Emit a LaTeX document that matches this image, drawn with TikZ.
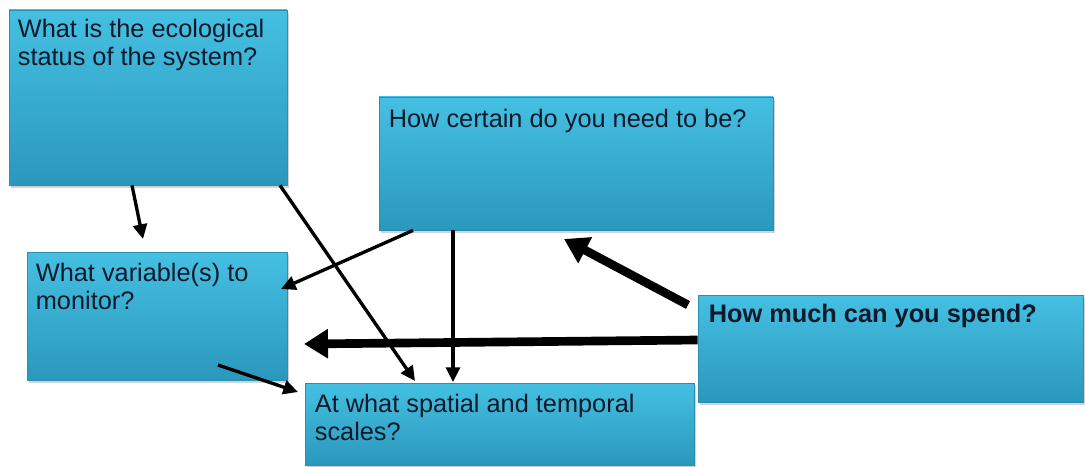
\documentclass[tikz,border=0pt]{standalone}
\usepackage{fontspec}
\setmainfont{Liberation Sans}
\usetikzlibrary{arrows.meta,shadows,fit,calc}
\definecolor{boxtop}{HTML}{45C0E2}
\definecolor{boxbot}{HTML}{2A98BC}
\definecolor{boxedge}{HTML}{2A90B0}
\definecolor{ink}{HTML}{0E1A2C}
\tikzset{
  qbox/.style={rectangle, inner sep=0pt, top color=boxtop, bottom color=boxbot,
    draw=boxedge, line width=0.6pt,
    drop shadow={shadow xshift=1.5pt, shadow yshift=-2pt, opacity=0.35}},
  qtext/.style={anchor=north west, inner sep=0pt, text=ink, align=left,
    font=\fontsize{19}{21}\selectfont},
  thin arrow/.style={line width=2.5pt, -{Triangle[length=11pt,width=10.5pt]}},
  thick arrow/.style={line width=6.5pt, -{Triangle[length=18pt,width=21pt]}}
}
\begin{document}
\begin{tikzpicture}[x=0.75pt,y=-0.75pt]
\useasboundingbox (0,0) rectangle (1085,467);
% question boxes
\node[qbox, fit={(9,10) (287,185)}]   (eco)   {};
\node[qbox, fit={(379,97) (773,230)}] (cert)  {};
\node[qbox, fit={(27,252) (287,380)}] (var)   {};
\node[qbox, fit={(698,295) (1083,402)}] (cost) {};
\node[qbox, fit={(305,383) (694,465)}] (scale) {};
% box texts
\node[qtext] (ecot) at ($(eco.north west)+(9,9)$) {What is the ecological\\status of the system?};
\node[qtext] (certt) at ($(cert.north west)+(10,12)$) {How certain do you need to be?};
\node[qtext] (vart) at ($(var.north west)+(9,11)$) {What variable(s) to\\monitor?};
\node[qtext, font=\fontsize{19}{21}\selectfont\bfseries] (costt) at ($(cost.north west)+(11,9)$) {How much can you spend?};
\node[qtext] (scalet) at ($(scale.north west)+(10,11)$) {At what spatial and temporal\\scales?};
% connector end points
\coordinate (e1) at (143,239);
\coordinate (e2) at (415,381);
\coordinate (e3) at (281,289);
\coordinate (e4) at (453,382);
\coordinate (s5) at (218,365);
\coordinate (e5) at (298,392);
\coordinate (s6) at (688,305);
\coordinate (e6) at (564,239);
\coordinate (e7) at (304,344);
% connectors
\draw[thin arrow] (eco.south -| 132,0) -- (e1);
\draw[thin arrow] (eco.south -| 280,0) -- (e2);
\draw[thin arrow] (cert.south -| 413,0) -- (e3);
\draw[thin arrow] (cert.south -| 453,0) -- (e4);
\draw[thin arrow] (s5) -- (e5);
\draw[thick arrow] (s6) -- (e6);
\draw[thick arrow] (cost.west |- 0,340) -- (e7);
\end{tikzpicture}
\end{document}
